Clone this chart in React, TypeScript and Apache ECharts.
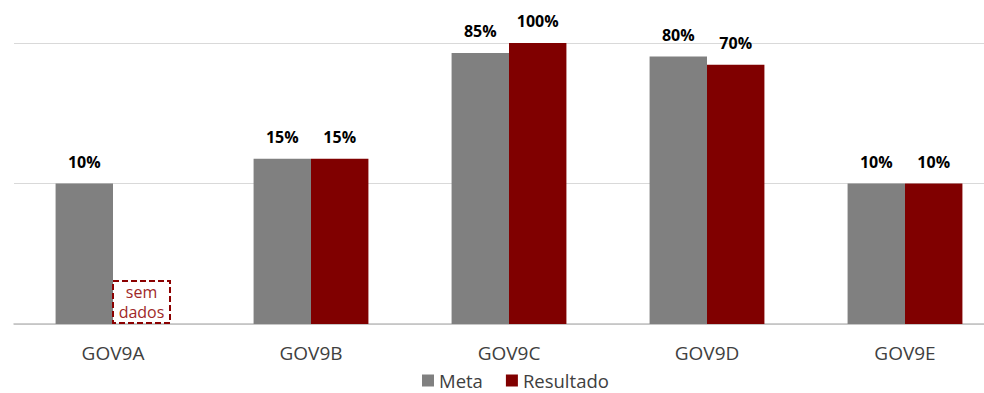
import React, { useEffect, useRef } from "react";
import * as echarts from "echarts";

const categories = ["GOV9A", "GOV9B", "GOV9C", "GOV9D", "GOV9E"];
const metaValues: (number | string)[] = [10, 15, 85, 80, 10];
const resultadoValues: (number | string)[] = ["-", 15, 100, 70, 10];
const seriesNames = ["Meta", "Resultado"];
const noDataText = "sem\ndados";

const FONT = "'Open Sans', 'Liberation Sans', sans-serif";

export default function App() {
  const ref = useRef<HTMLDivElement>(null);
  useEffect(() => {
    if (!ref.current) return;
    const chart = echarts.init(ref.current, undefined, { renderer: "svg" });
    const labelCfg = {
      show: true,
      position: "top" as const,
      distance: 14,
      formatter: "{c}%",
      color: "#000",
      fontWeight: "bold" as const,
      fontSize: 16,
      fontFamily: FONT,
    };
    chart.setOption({
      animation: false,
      backgroundColor: "#fff",
      grid: { left: 14, right: 0, top: 43, bottom: 69, containLabel: false },
      legend: {
        top: 371,
        left: 422,
        padding: 0,
        itemWidth: 12,
        itemHeight: 12,
        itemGap: 23,
        icon: "rect",
        data: seriesNames,
        textStyle: { fontSize: 18.5, lineHeight: 18, color: "#404040", fontFamily: FONT },
      },
      xAxis: {
        type: "category",
        data: categories,
        axisTick: { show: false },
        axisLine: { lineStyle: { color: "#bfbfbf", width: 1.5 } },
        axisLabel: { color: "#404040", fontSize: 19, fontFamily: FONT, margin: 19 },
      },
      yAxis: {
        type: "log",
        logBase: 10,
        min: 1,
        max: 100,
        axisLabel: { show: false },
        axisTick: { show: false },
        axisLine: { show: false },
        splitLine: { lineStyle: { color: "#d9d9d9", width: 1.2 } },
      },
      series: [
        {
          name: seriesNames[0],
          type: "bar",
          data: metaValues,
          itemStyle: { color: "#808080" },
          barGap: "0%",
          barCategoryGap: "42%",
          label: labelCfg,
        },
        {
          name: seriesNames[1],
          type: "bar",
          data: resultadoValues,
          itemStyle: { color: "#800000" },
          barGap: "0%",
          barCategoryGap: "42%",
          label: labelCfg,
        },
      ],
    });
    const cx = chart.convertToPixel({ xAxisIndex: 0 }, categories[0]) as number;
    const base = chart.convertToPixel({ yAxisIndex: 0 }, 1) as number;
    const w = 57;
    const h = 43;
    chart.setOption({
      graphic: [
        {
          type: "rect",
          shape: { x: cx, y: base - h, width: w, height: h - 1 },
          style: { fill: "#fff", stroke: "#8b0000", lineWidth: 2, lineDash: [6, 3] },
          z: 10,
        },
        {
          type: "text",
          x: cx + w / 2,
          y: base - h / 2 - 1,
          style: {
            text: noDataText,
            fill: "#a02828",
            fontSize: 16,
            lineHeight: 20,
            fontFamily: FONT,
            align: "center",
            verticalAlign: "middle",
          },
          z: 11,
        },
      ],
    });
    return () => chart.dispose();
  }, []);
  return (
    <div
      style={{
        position: "fixed",
        left: 0,
        top: 0,
        width: 984,
        height: 393,
        overflow: "hidden",
        background: "#fff",
      }}
    >
      <div ref={ref} style={{ width: 1004, height: 393 }} />
    </div>
  );
}
